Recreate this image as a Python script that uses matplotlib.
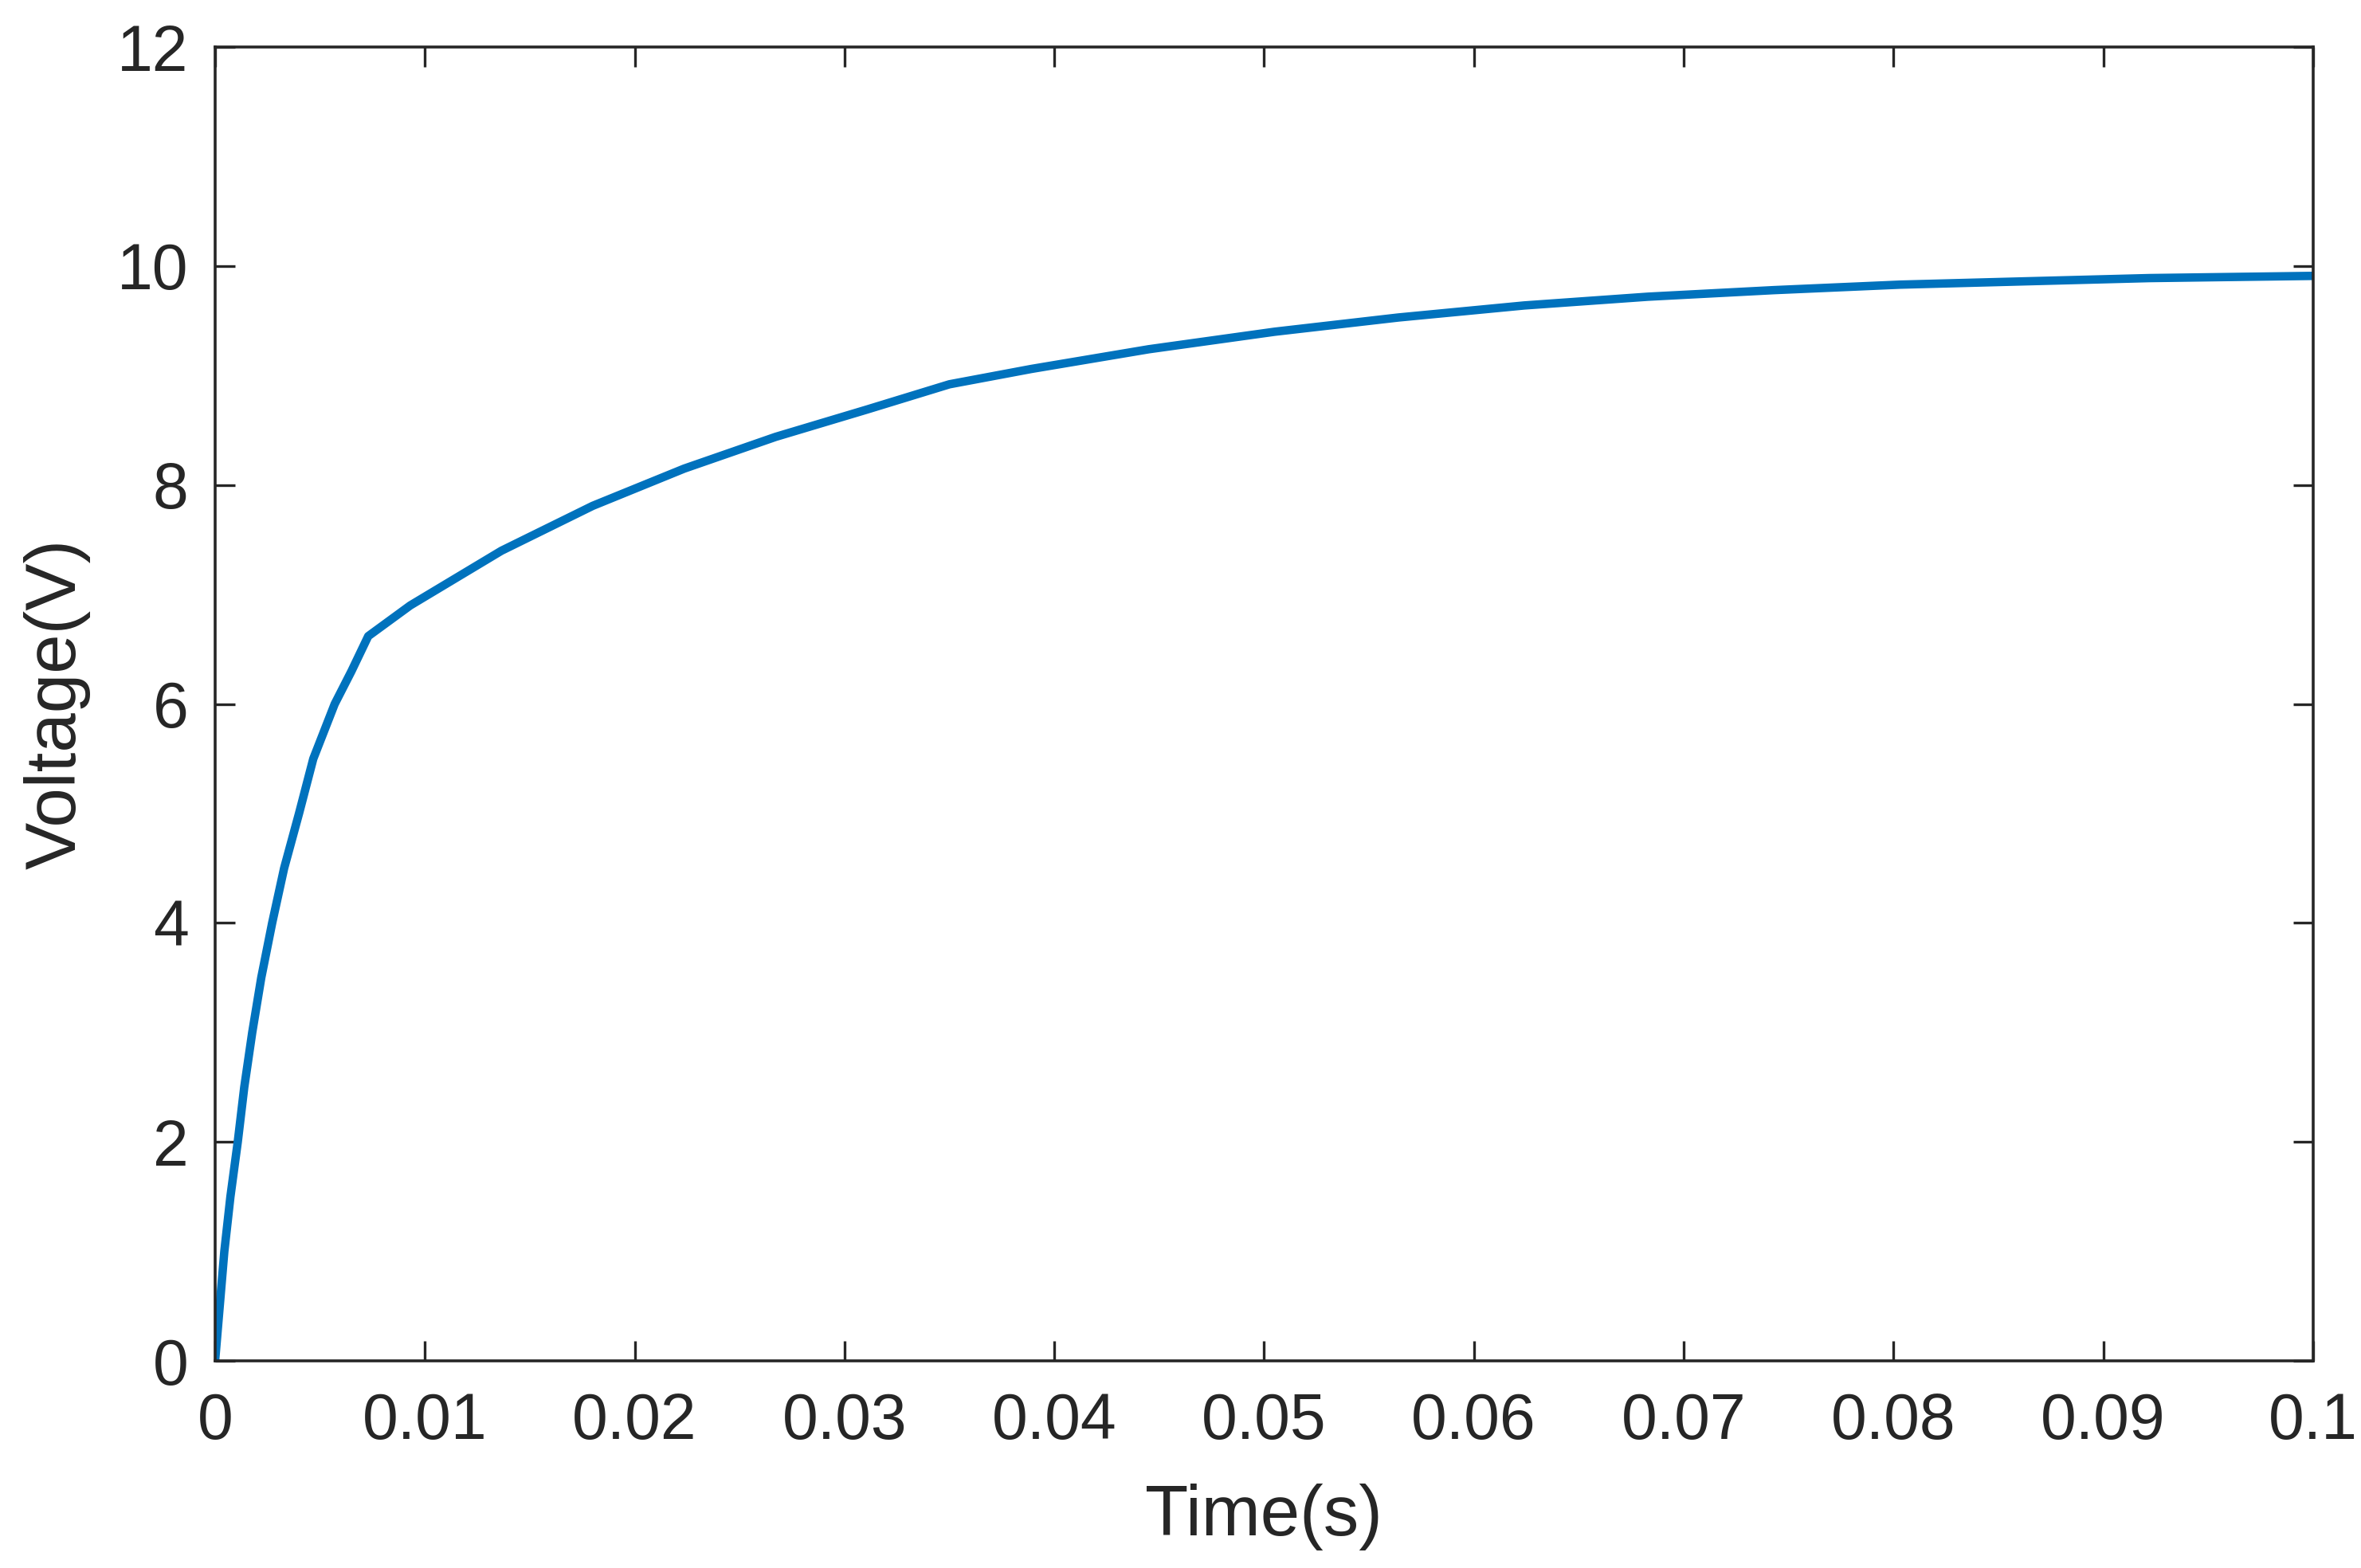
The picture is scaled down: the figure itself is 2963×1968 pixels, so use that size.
import matplotlib
matplotlib.use("Agg")
import matplotlib.pyplot as plt

# values
time = [0, 0.00022, 0.00044, 0.00073, 0.00108, 0.00139, 0.00177, 0.0022, 0.00272,
        0.00329, 0.0040, 0.00468, 0.0057, 0.0065, 0.0073, 0.0093, 0.01365,
        0.018, 0.02236, 0.02672, 0.03108, 0.035, 0.0389, 0.0445, 0.0505, 0.0564,
        0.0624, 0.0683, 0.0743, 0.0803, 0.0862, 0.0922, 0.1]
voltage = [0, 0.5, 1.0, 1.5, 2.0, 2.5, 3.0, 3.5, 4.0,
           4.5, 5.0, 5.5, 6.0, 6.3, 6.62, 6.9, 7.4,
           7.81, 8.15, 8.44, 8.69, 8.92, 9.06, 9.24, 9.40, 9.53,
           9.64, 9.72, 9.78, 9.83, 9.86, 9.89, 9.91]

x_ticks = [0, 0.01, 0.02, 0.03, 0.04, 0.05, 0.06, 0.07, 0.08, 0.09, 0.1]
x_labels = ["0", "0.01", "0.02", "0.03", "0.04", "0.05", "0.06", "0.07", "0.08", "0.09", "0.1"]
y_ticks = [0, 2, 4, 6, 8, 10, 12]

plt.rcParams["font.family"] = ["Liberation Sans", "DejaVu Sans"]

fig = plt.figure(figsize=(14.815, 9.84), dpi=200)
ax = fig.add_axes([0.0911, 0.132, 0.8886, 0.838])

ax.plot(time, voltage, color="#0072BD", lw=3.8, solid_joinstyle="round")

ax.set_xlim(0, 0.1)
ax.set_ylim(0, 12)
ax.set_xticks(x_ticks)
ax.set_xticklabels(x_labels)
ax.set_yticks(y_ticks)

axis_col = "#262626"
for s in ax.spines.values():
    s.set_color(axis_col)
    s.set_linewidth(1.3)
ax.tick_params(direction="in", length=9, width=1.2, colors=axis_col,
               labelsize=29, top=True, right=True)
ax.tick_params(axis="x", pad=14)
ax.tick_params(axis="y", pad=12)

ax.set_xlabel("Time(s)", fontsize=32, color=axis_col, labelpad=14)
ax.set_ylabel("Voltage(V)", fontsize=32, color=axis_col, labelpad=12)

fig.savefig("out.png", dpi=200)
